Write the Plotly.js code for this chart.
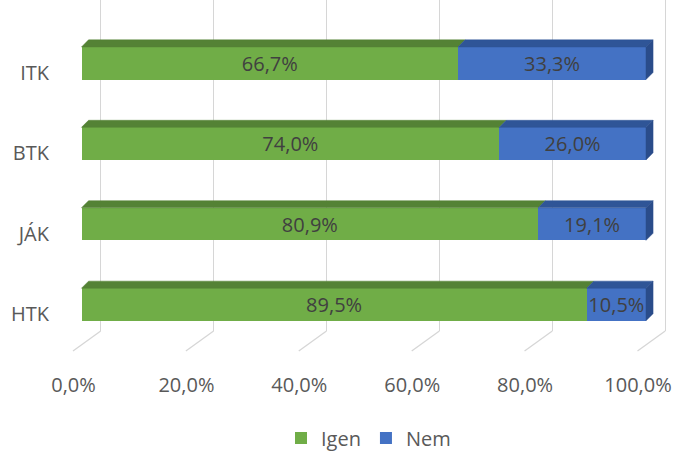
<!DOCTYPE html>
<html>
<head>
<meta charset="utf-8">
<script src="https://cdn.plot.ly/plotly-3.0.1.min.js"></script>
<style>html,body{margin:0;padding:0;background:#fff;}#chart{width:685px;height:452px;}</style>
</head>
<body>
<div id="chart"></div>
<script>
// ---- data ----
const categories = ['HTK', 'JÁK', 'BTK', 'ITK'];
const igen = [89.5, 80.9, 74.0, 66.7];
const nem = [10.5, 19.1, 26.0, 33.3];
const seriesNames = ['Igen', 'Nem'];
const xTicks = [0, 20, 40, 60, 80, 100];
const xTickText = xTicks.map(v => v.toFixed(1).replace('.', ',') + '%');

// ---- styling / geometry ----
const GREEN = '#70AD47', GREEN_TOP = '#548235';
const BLUE = '#4472C4', BLUE_TOP = '#2F5597', BLUE_SIDE = '#2A4C8A';
const W = 0.405;      // bar thickness (y units)
const DX = 1.25;      // depth offset in x units
const DY = 0.088;     // depth offset in y units
const FONT = '"Open Sans", sans-serif';
const pos = categories.map((c, i) => i);
const fmt = v => v.toFixed(1).replace('.', ',') + '%';

function topFaces(starts, ends) {
  const xs = [], ys = [];
  pos.forEach((p, i) => {
    const yt = p + W / 2;
    xs.push(starts[i], ends[i], ends[i] + DX, starts[i] + DX, starts[i], null);
    ys.push(yt, yt, yt + DY, yt + DY, yt, null);
  });
  return {x: xs, y: ys};
}
function sideFaces(ends) {
  const xs = [], ys = [];
  pos.forEach((p, i) => {
    const y0 = p - W / 2, y1 = p + W / 2;
    xs.push(ends[i], ends[i], ends[i] + DX, ends[i] + DX, ends[i], null);
    ys.push(y0, y1, y1 + DY, y0 + DY, y0, null);
  });
  return {x: xs, y: ys};
}
const zeros = igen.map(() => 0);
const totals = igen.map((v, i) => v + nem[i]);
const gTop = topFaces(zeros, igen);
const bTop = topFaces(igen, totals);
const bSide = sideFaces(totals);

const textFont = {family: FONT, size: 20, color: '#404040'};
const traces = [
  {type: 'bar', orientation: 'h', name: seriesNames[0], x: igen, y: pos, width: W,
   marker: {color: GREEN}, text: igen.map(fmt), textposition: 'inside', insidetextanchor: 'middle',
   constraintext: 'none', insidetextfont: textFont, textfont: textFont, hoverinfo: 'skip'},
  {type: 'bar', orientation: 'h', name: seriesNames[1], x: nem, y: pos, width: W,
   marker: {color: BLUE}, text: nem.map(fmt), textposition: 'inside', insidetextanchor: 'middle',
   constraintext: 'none', insidetextfont: textFont, textfont: textFont, hoverinfo: 'skip'},
  {type: 'scatter', mode: 'lines', x: gTop.x, y: gTop.y, fill: 'toself', fillcolor: GREEN_TOP,
   line: {color: GREEN_TOP, width: 0.5}, showlegend: false, hoverinfo: 'skip'},
  {type: 'scatter', mode: 'lines', x: bTop.x, y: bTop.y, fill: 'toself', fillcolor: BLUE_TOP,
   line: {color: BLUE_TOP, width: 0.5}, showlegend: false, hoverinfo: 'skip'},
  {type: 'scatter', mode: 'lines', x: bSide.x, y: bSide.y, fill: 'toself', fillcolor: BLUE_SIDE,
   line: {color: BLUE_SIDE, width: 0.5}, showlegend: false, hoverinfo: 'skip'},
  // empty helper traces so the overlay axes (grid / labels) exist
  {type: 'scatter', x: [], y: [], xaxis: 'x2', yaxis: 'y', showlegend: false, hoverinfo: 'skip'},
  {type: 'scatter', x: [], y: [], xaxis: 'x3', yaxis: 'y', showlegend: false, hoverinfo: 'skip'},
  {type: 'scatter', x: [], y: [], xaxis: 'x', yaxis: 'y2', showlegend: false, hoverinfo: 'skip'}
];

// floor diagonals of the back-wall gridlines
const GRID = '#d6d6d6';
const shapes = xTicks.map(t => ({
  type: 'line', xref: 'x2', yref: 'paper', x0: t, y0: 0, x1: t - 4.91, y1: -0.0604,
  line: {color: GRID, width: 1.3}, layer: 'below'
}));

const tickFont = {family: FONT, size: 20, color: '#595959'};
const layout = {
  width: 685, height: 452,
  margin: {l: 62, r: 10, t: 0, b: 121, autoexpand: false},
  paper_bgcolor: '#ffffff', plot_bgcolor: 'rgba(0,0,0,0)',
  barmode: 'stack', hovermode: false,
  showlegend: true,
  legend: {orientation: 'h', x: 0.5, xanchor: 'center', y: -0.323, yanchor: 'middle',
           itemwidth: 30, font: {family: FONT, size: 20, color: '#595959'}, traceorder: 'normal'},
  xaxis: {range: [-3.454, 105.138], showgrid: false, zeroline: false, showticklabels: false,
          showline: false, ticks: ''},
  xaxis2: {overlaying: 'x', anchor: 'y', side: 'bottom', range: [-6.856, 101.736],
           tickvals: xTicks, showgrid: true, gridcolor: GRID, gridwidth: 1.3,
           zeroline: false, showticklabels: false, showline: false, ticks: ''},
  xaxis3: {overlaying: 'x', anchor: 'y', side: 'bottom', range: [-2.037, 106.555],
           tickvals: xTicks, ticktext: xTickText, showgrid: false, zeroline: false, showline: false,
           ticks: 'outside', ticklen: 36, tickcolor: 'rgba(0,0,0,0)', tickfont: tickFont},
  yaxis: {range: [-0.3296, 3.786], showgrid: false, zeroline: false, showticklabels: false,
          showline: false, ticks: ''},
  yaxis2: {overlaying: 'y', anchor: 'x', side: 'left', range: [-0.2114, 3.904],
           tickvals: pos, ticktext: categories, showgrid: false, zeroline: false, showline: false,
           ticks: 'outside', ticklen: 8, tickcolor: 'rgba(0,0,0,0)', tickfont: tickFont},
  shapes: shapes
};

Plotly.newPlot('chart', traces, layout, {staticPlot: true, displayModeBar: false});
</script>
</body>
</html>
